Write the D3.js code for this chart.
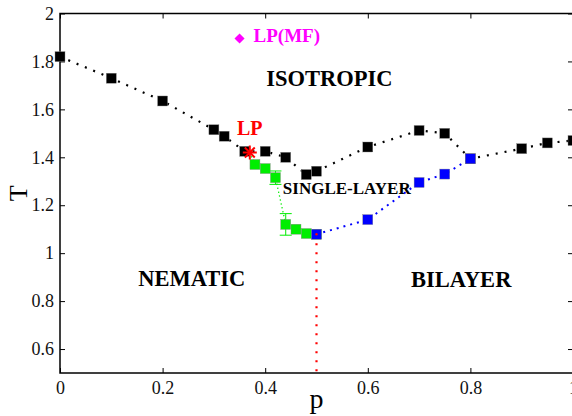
<!DOCTYPE html>
<html>
<head>
<meta charset="utf-8">
<script src="https://cdn.jsdelivr.net/npm/d3@7"></script>
<style>
  body { margin: 0; background: #fff; }
  svg { display: block; }
  svg text { font-family: "Liberation Serif", "Times New Roman", "DejaVu Serif", serif; }
</style>
</head>
<body>
<div id="chart"></div>
<script>
// phase diagram data (p, T)
var blackP = [0, 0.1, 0.2, 0.3, 0.32, 0.36, 0.4, 0.44, 0.48, 0.5, 0.6, 0.7, 0.75, 0.8, 0.9, 0.95, 1.0];
var blackT = [1.82, 1.73, 1.635, 1.515, 1.488, 1.425, 1.425, 1.40, 1.328, 1.342, 1.443, 1.512, 1.50, 1.394, 1.436, 1.46, 1.47];

var greenP = [0.37, 0.38, 0.4, 0.42, 0.44, 0.46, 0.48, 0.5];
var greenT = [1.42, 1.37, 1.353, 1.315, 1.12, 1.10, 1.082, 1.079];
var greenErr = [0, 0, 0, 0.028, 0.045, 0, 0, 0];

var blueP = [0.5, 0.6, 0.7, 0.75, 0.8];
var blueT = [1.079, 1.14, 1.295, 1.33, 1.394];

var lpPoint = [0.37, 1.42];
var lpMF = [0.35, 1.896];

var xTicks = [0, 0.2, 0.4, 0.6, 0.8, 1];
var yTicks = [0.6, 0.8, 1, 1.2, 1.4, 1.6, 1.8, 2];

var phaseLabels = [
  {text: "ISOTROPIC", p: 0.525, T: 1.731, size: 22.5},
  {text: "NEMATIC", p: 0.257, T: 0.896, size: 22.5},
  {text: "BILAYER", p: 0.782, T: 0.893, size: 22.5},
  {text: "SINGLE-LAYER", p: 0.559, T: 1.271, size: 17}
];

var W = 572, H = 416;

var x = d3.scaleLinear().domain([0, 1]).range([60, 573]);
var y = d3.scaleLinear().domain([0.5, 2]).range([373, 13.5]);

var svg = d3.select("#chart").append("svg")
  .attr("width", W)
  .attr("height", H);

// frame
svg.append("rect")
  .attr("x", x(0)).attr("y", y(2))
  .attr("width", x(1) - x(0)).attr("height", y(0.5) - y(2))
  .attr("fill", "none").attr("stroke", "#000").attr("stroke-width", 1.5);

// axes with inward ticks
svg.append("g").attr("transform", "translate(0," + y(0.5) + ")")
  .call(d3.axisBottom(x).tickValues(xTicks).tickSizeInner(-5).tickSizeOuter(0).tickPadding(8)
    .tickFormat(d3.format("")));
svg.append("g").attr("transform", "translate(0," + y(2) + ")")
  .call(d3.axisTop(x).tickValues(xTicks).tickSizeInner(-5).tickSizeOuter(0).tickFormat(""));
svg.append("g").attr("transform", "translate(" + x(0) + ",0)")
  .call(d3.axisLeft(y).tickValues(yTicks).tickSizeInner(-5).tickSizeOuter(0).tickPadding(6)
    .tickFormat(d3.format("")));
svg.append("g").attr("transform", "translate(" + x(1) + ",0)")
  .call(d3.axisRight(y).tickValues(yTicks).tickSizeInner(-5).tickSizeOuter(0).tickFormat(""));

svg.selectAll(".domain").remove();
svg.selectAll("g").attr("font-family", null);
svg.selectAll(".tick line").attr("stroke", "#000").attr("stroke-width", 1);
svg.selectAll(".tick text")
  .attr("font-size", "18px").attr("fill", "#111");

// axis titles
svg.append("text").attr("x", x(0.5)).attr("y", 408)
  .attr("text-anchor", "middle").attr("font-size", "28px")
  .text("p");
svg.append("text").attr("transform", "translate(26.5," + y(1.25) + ") rotate(-90)")
  .attr("text-anchor", "middle").attr("font-size", "26px")
  .text("T");

function pts(ps, ts) {
  return ps.map(function(p, i) { return [p, ts[i]]; });
}
var line = d3.line().x(function(d) { return x(d[0]); }).y(function(d) { return y(d[1]); });

// red vertical dotted boundary at p = 0.5
svg.append("path")
  .attr("d", line([[0.5, blueT[0]], [0.5, 0.5]]))
  .attr("stroke", "#f00").attr("stroke-width", 2.2)
  .attr("stroke-dasharray", "2,7").attr("fill", "none");

// dotted connecting lines
svg.append("path").datum(pts(blackP, blackT)).attr("d", line)
  .attr("fill", "none").attr("stroke", "#000").attr("stroke-width", 2.2)
  .attr("stroke-dasharray", "2,7");
svg.append("path").datum(pts(greenP, greenT)).attr("d", line)
  .attr("fill", "none").attr("stroke", "#00ee00").attr("stroke-width", 1.3)
  .attr("stroke-dasharray", "1.3,2.7");
svg.append("path").datum(pts(blueP, blueT)).attr("d", line)
  .attr("fill", "none").attr("stroke", "#00f").attr("stroke-width", 2)
  .attr("stroke-dasharray", "2,5");

// error bars
var errs = pts(greenP, greenT).map(function(d, i) { return [d[0], d[1], greenErr[i]]; })
  .filter(function(d) { return d[2] > 0; });
var eb = svg.selectAll("g.err").data(errs).enter().append("g").attr("class", "err")
  .attr("stroke", "#00ee00").attr("stroke-width", 1);
eb.append("line")
  .attr("x1", function(d) { return x(d[0]); }).attr("x2", function(d) { return x(d[0]); })
  .attr("y1", function(d) { return y(d[1] + d[2]); }).attr("y2", function(d) { return y(d[1] - d[2]); });
[1, -1].forEach(function(s) {
  eb.append("line")
    .attr("x1", function(d) { return x(d[0]) - 6; }).attr("x2", function(d) { return x(d[0]) + 6; })
    .attr("y1", function(d) { return y(d[1] + s * d[2]); }).attr("y2", function(d) { return y(d[1] + s * d[2]); });
});

// square markers
function squares(data, color, skipFirst) {
  var d0 = skipFirst ? data.slice(1) : data;
  svg.append("g").selectAll("rect").data(d0).enter().append("rect")
    .attr("x", function(d) { return x(d[0]) - 5; })
    .attr("y", function(d) { return y(d[1]) - 5; })
    .attr("width", 10).attr("height", 10)
    .attr("fill", color).attr("stroke", "#888").attr("stroke-width", 0.4);
}
squares(pts(blackP, blackT), "#000", false);
squares(pts(greenP, greenT), "#00ee00", true);
squares(pts(blueP, blueT), "#00f", false);

// small red dot inside the blue square at p=0.5
svg.append("circle").attr("cx", x(0.5)).attr("cy", y(blueT[0])).attr("r", 1.2).attr("fill", "#f00");

// LP star
var star = svg.append("g").attr("transform", "translate(" + x(lpPoint[0]) + "," + y(lpPoint[1]) + ")")
  .attr("stroke", "#f00").attr("stroke-width", 2);
[0, 45, 90, 135].forEach(function(a) {
  var r = 7, rad = a * Math.PI / 180;
  star.append("line")
    .attr("x1", -r * Math.cos(rad)).attr("y1", -r * Math.sin(rad))
    .attr("x2", r * Math.cos(rad)).attr("y2", r * Math.sin(rad));
});
svg.append("text").attr("x", x(lpPoint[0])).attr("y", y(lpPoint[1]) - 18)
  .attr("text-anchor", "middle").attr("font-weight", "bold")
  .attr("font-size", "20px").attr("fill", "#f00").text("LP");

// LP(MF) diamond
svg.append("path")
  .attr("d", d3.symbol().type(d3.symbolDiamond2).size(65)())
  .attr("transform", "translate(" + x(lpMF[0]) + "," + y(lpMF[1]) + ")")
  .attr("fill", "#f0f");
svg.append("text").attr("x", x(lpMF[0]) + 14).attr("y", y(lpMF[1]) + 4)
  .attr("font-weight", "bold")
  .attr("font-size", "19px").attr("fill", "#f0f").text("LP(MF)");

// phase region labels
svg.selectAll("text.phase").data(phaseLabels).enter().append("text")
  .attr("class", "phase")
  .attr("x", function(d) { return x(d.p); })
  .attr("y", function(d) { return y(d.T); })
  .attr("dy", "0.35em")
  .attr("text-anchor", "middle")
  .attr("font-weight", "bold")
  .attr("font-size", function(d) { return d.size + "px"; })
  .text(function(d) { return d.text; });
</script>
</body>
</html>
